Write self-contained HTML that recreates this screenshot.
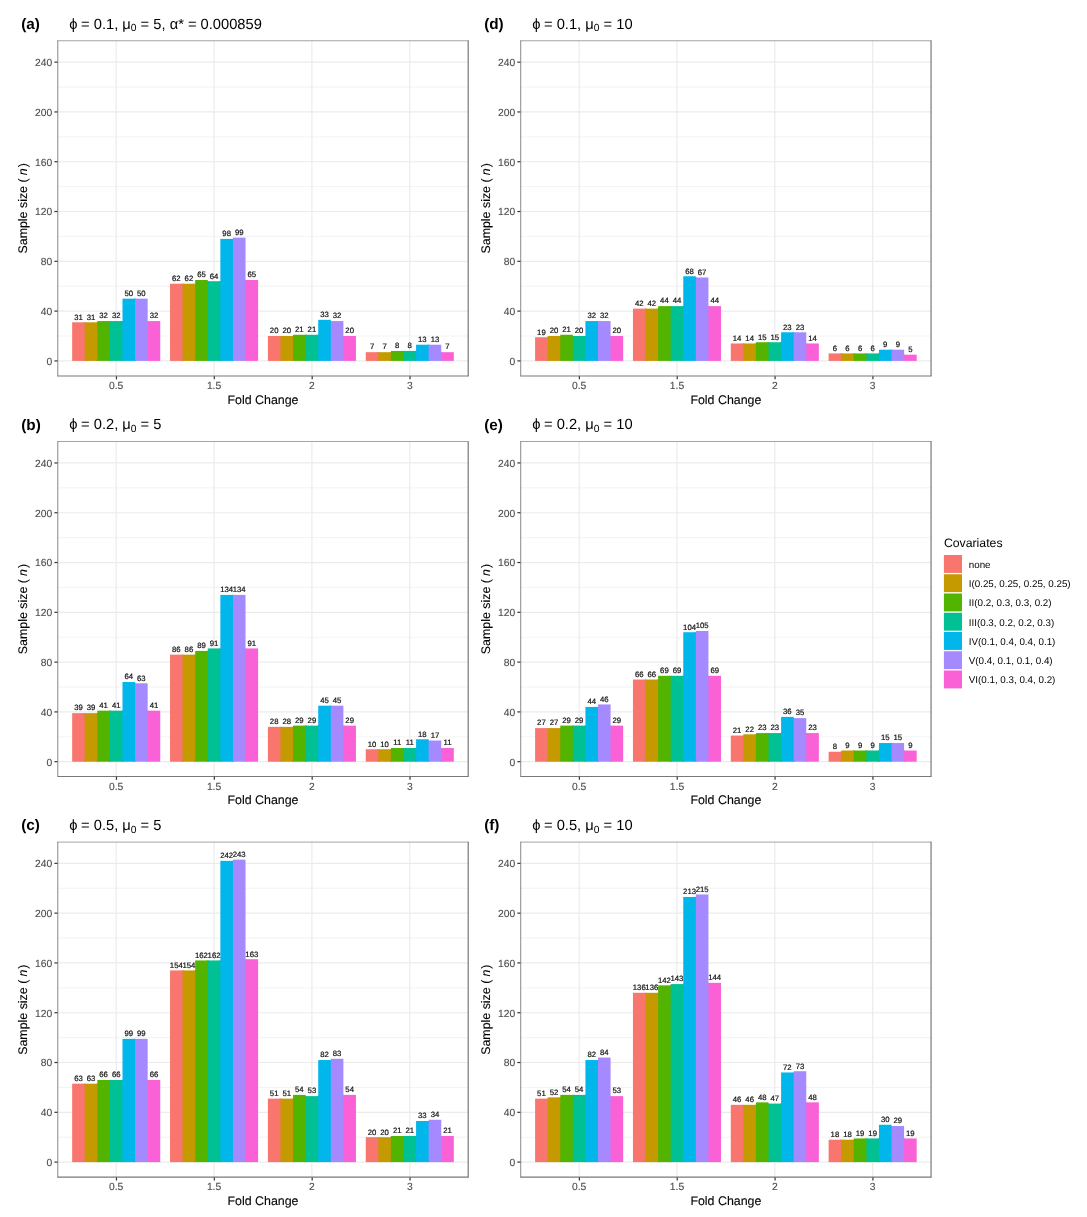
<!DOCTYPE html>
<html lang="en">
<head>
<meta charset="utf-8">
<title>Sample size by fold change</title>
<style>
html,body{margin:0;padding:0;background:#fff;}
body{width:1087px;height:1217px;overflow:hidden;}
svg{display:block;}
text{text-rendering:geometricPrecision;font-family:"Liberation Sans",sans-serif;fill:#000;}
.bl{font-size:7.75px;text-anchor:middle;fill:#111;stroke:#111;stroke-width:0.2px;}
.yt{font-size:10.3px;text-anchor:end;fill:#4D4D4D;stroke:#4D4D4D;stroke-width:0.12px;}
.xt{font-size:10.3px;text-anchor:middle;fill:#4D4D4D;stroke:#4D4D4D;stroke-width:0.12px;}
.at{font-size:12.4px;text-anchor:middle;stroke:#000;stroke-width:0.1px;}
.tg{font-size:15.3px;font-weight:bold;}
.tt{font-size:14.7px;}
.sub{font-size:10.29px;}
.lt{font-size:12.27px;}
.ll{font-size:9.8px;}
</style>
</head>
<body>
<svg role="img" aria-label="Sample size by fold change bar charts" width="1087" height="1217" viewBox="0 0 1087 1217">
<rect x="0" y="0" width="1087" height="1217" fill="#fff"/>
<g class="panel">
<line x1="57.49" x2="468.5" y1="336" y2="336" stroke="#EBEBEB" stroke-width="0.6"/>
<line x1="57.49" x2="468.5" y1="286.21" y2="286.21" stroke="#EBEBEB" stroke-width="0.6"/>
<line x1="57.49" x2="468.5" y1="236.42" y2="236.42" stroke="#EBEBEB" stroke-width="0.6"/>
<line x1="57.49" x2="468.5" y1="186.63" y2="186.63" stroke="#EBEBEB" stroke-width="0.6"/>
<line x1="57.49" x2="468.5" y1="136.84" y2="136.84" stroke="#EBEBEB" stroke-width="0.6"/>
<line x1="57.49" x2="468.5" y1="87.04" y2="87.04" stroke="#EBEBEB" stroke-width="0.6"/>
<line x1="57.49" x2="468.5" y1="360.9" y2="360.9" stroke="#EBEBEB" stroke-width="1.19"/>
<line x1="57.49" x2="468.5" y1="311.11" y2="311.11" stroke="#EBEBEB" stroke-width="1.19"/>
<line x1="57.49" x2="468.5" y1="261.32" y2="261.32" stroke="#EBEBEB" stroke-width="1.19"/>
<line x1="57.49" x2="468.5" y1="211.52" y2="211.52" stroke="#EBEBEB" stroke-width="1.19"/>
<line x1="57.49" x2="468.5" y1="161.73" y2="161.73" stroke="#EBEBEB" stroke-width="1.19"/>
<line x1="57.49" x2="468.5" y1="111.94" y2="111.94" stroke="#EBEBEB" stroke-width="1.19"/>
<line x1="57.49" x2="468.5" y1="62.15" y2="62.15" stroke="#EBEBEB" stroke-width="1.19"/>
<line x1="116.21" x2="116.21" y1="40.45" y2="376.3" stroke="#EBEBEB" stroke-width="1.19"/>
<line x1="214.07" x2="214.07" y1="40.45" y2="376.3" stroke="#EBEBEB" stroke-width="1.19"/>
<line x1="311.92" x2="311.92" y1="40.45" y2="376.3" stroke="#EBEBEB" stroke-width="1.19"/>
<line x1="409.78" x2="409.78" y1="40.45" y2="376.3" stroke="#EBEBEB" stroke-width="1.19"/>
<rect x="83.75" y="322.31" width="2" height="38.59" fill="#F8766D"/>
<rect x="96.33" y="322.31" width="2" height="38.59" fill="#C49A00"/>
<rect x="108.91" y="321.07" width="2" height="39.83" fill="#53B400"/>
<rect x="121.5" y="321.07" width="2" height="39.83" fill="#00C094"/>
<rect x="134.08" y="298.66" width="2" height="62.24" fill="#00B6EB"/>
<rect x="146.66" y="321.07" width="2" height="39.83" fill="#A58AFF"/>
<rect x="181.61" y="283.72" width="2" height="77.18" fill="#F8766D"/>
<rect x="194.19" y="283.72" width="2" height="77.18" fill="#C49A00"/>
<rect x="206.77" y="281.23" width="2" height="79.67" fill="#53B400"/>
<rect x="219.36" y="281.23" width="2" height="79.67" fill="#00C094"/>
<rect x="231.94" y="238.91" width="2" height="121.99" fill="#00B6EB"/>
<rect x="244.52" y="279.99" width="2" height="80.91" fill="#A58AFF"/>
<rect x="279.47" y="336" width="2" height="24.9" fill="#F8766D"/>
<rect x="292.05" y="336" width="2" height="24.9" fill="#C49A00"/>
<rect x="304.63" y="334.76" width="2" height="26.14" fill="#53B400"/>
<rect x="317.22" y="334.76" width="2" height="26.14" fill="#00C094"/>
<rect x="329.8" y="321.07" width="2" height="39.83" fill="#00B6EB"/>
<rect x="342.38" y="336" width="2" height="24.9" fill="#A58AFF"/>
<rect x="377.33" y="352.19" width="2" height="8.71" fill="#F8766D"/>
<rect x="389.91" y="352.19" width="2" height="8.71" fill="#C49A00"/>
<rect x="402.49" y="350.94" width="2" height="9.96" fill="#53B400"/>
<rect x="415.08" y="350.94" width="2" height="9.96" fill="#00C094"/>
<rect x="427.66" y="344.72" width="2" height="16.18" fill="#00B6EB"/>
<rect x="440.24" y="352.19" width="2" height="8.71" fill="#A58AFF"/>
<rect x="72.17" y="322.31" width="12.58" height="38.59" fill="#F8766D"/>
<rect x="84.75" y="322.31" width="12.58" height="38.59" fill="#C49A00"/>
<rect x="97.33" y="321.07" width="12.58" height="39.83" fill="#53B400"/>
<rect x="109.91" y="321.07" width="12.58" height="39.83" fill="#00C094"/>
<rect x="122.5" y="298.66" width="12.58" height="62.24" fill="#00B6EB"/>
<rect x="135.08" y="298.66" width="12.58" height="62.24" fill="#A58AFF"/>
<rect x="147.66" y="321.07" width="12.58" height="39.83" fill="#FB61D7"/>
<rect x="170.03" y="283.72" width="12.58" height="77.18" fill="#F8766D"/>
<rect x="182.61" y="283.72" width="12.58" height="77.18" fill="#C49A00"/>
<rect x="195.19" y="279.99" width="12.58" height="80.91" fill="#53B400"/>
<rect x="207.77" y="281.23" width="12.58" height="79.67" fill="#00C094"/>
<rect x="220.36" y="238.91" width="12.58" height="121.99" fill="#00B6EB"/>
<rect x="232.94" y="237.66" width="12.58" height="123.24" fill="#A58AFF"/>
<rect x="245.52" y="279.99" width="12.58" height="80.91" fill="#FB61D7"/>
<rect x="267.89" y="336" width="12.58" height="24.9" fill="#F8766D"/>
<rect x="280.47" y="336" width="12.58" height="24.9" fill="#C49A00"/>
<rect x="293.05" y="334.76" width="12.58" height="26.14" fill="#53B400"/>
<rect x="305.63" y="334.76" width="12.58" height="26.14" fill="#00C094"/>
<rect x="318.22" y="319.82" width="12.58" height="41.08" fill="#00B6EB"/>
<rect x="330.8" y="321.07" width="12.58" height="39.83" fill="#A58AFF"/>
<rect x="343.38" y="336" width="12.58" height="24.9" fill="#FB61D7"/>
<rect x="365.75" y="352.19" width="12.58" height="8.71" fill="#F8766D"/>
<rect x="378.33" y="352.19" width="12.58" height="8.71" fill="#C49A00"/>
<rect x="390.91" y="350.94" width="12.58" height="9.96" fill="#53B400"/>
<rect x="403.49" y="350.94" width="12.58" height="9.96" fill="#00C094"/>
<rect x="416.08" y="344.72" width="12.58" height="16.18" fill="#00B6EB"/>
<rect x="428.66" y="344.72" width="12.58" height="16.18" fill="#A58AFF"/>
<rect x="441.24" y="352.19" width="12.58" height="8.71" fill="#FB61D7"/>
<text class="bl" x="78.46" y="319.61">31</text>
<text class="bl" x="91.04" y="319.61">31</text>
<text class="bl" x="103.62" y="318.37">32</text>
<text class="bl" x="116.21" y="318.37">32</text>
<text class="bl" x="128.79" y="295.96">50</text>
<text class="bl" x="141.37" y="295.96">50</text>
<text class="bl" x="153.95" y="318.37">32</text>
<text class="bl" x="176.32" y="281.02">62</text>
<text class="bl" x="188.9" y="281.02">62</text>
<text class="bl" x="201.48" y="277.29">65</text>
<text class="bl" x="214.07" y="278.53">64</text>
<text class="bl" x="226.65" y="236.21">98</text>
<text class="bl" x="239.23" y="234.96">99</text>
<text class="bl" x="251.81" y="277.29">65</text>
<text class="bl" x="274.18" y="333.3">20</text>
<text class="bl" x="286.76" y="333.3">20</text>
<text class="bl" x="299.34" y="332.06">21</text>
<text class="bl" x="311.92" y="332.06">21</text>
<text class="bl" x="324.51" y="317.12">33</text>
<text class="bl" x="337.09" y="318.37">32</text>
<text class="bl" x="349.67" y="333.3">20</text>
<text class="bl" x="372.04" y="349.49">7</text>
<text class="bl" x="384.62" y="349.49">7</text>
<text class="bl" x="397.2" y="348.24">8</text>
<text class="bl" x="409.78" y="348.24">8</text>
<text class="bl" x="422.37" y="342.02">13</text>
<text class="bl" x="434.95" y="342.02">13</text>
<text class="bl" x="447.53" y="349.49">7</text>
<line x1="57.49" y1="40.75" x2="468.5" y2="40.75" stroke="#9a9a9a" stroke-width="0.9"/>
<line x1="57.79" y1="40.45" x2="57.79" y2="376.3" stroke="#7b7b7b" stroke-width="0.9"/>
<line x1="468.2" y1="40.45" x2="468.2" y2="376.3" stroke="#787878" stroke-width="1.2"/>
<line x1="57.49" y1="376" x2="468.5" y2="376" stroke="#787878" stroke-width="1.2"/>
<line x1="54.42" x2="57.49" y1="360.9" y2="360.9" stroke="#333333" stroke-width="1.19"/>
<text class="yt" x="52.29" y="364.75">0</text>
<line x1="54.42" x2="57.49" y1="311.11" y2="311.11" stroke="#333333" stroke-width="1.19"/>
<text class="yt" x="52.29" y="314.96">40</text>
<line x1="54.42" x2="57.49" y1="261.32" y2="261.32" stroke="#333333" stroke-width="1.19"/>
<text class="yt" x="52.29" y="265.17">80</text>
<line x1="54.42" x2="57.49" y1="211.52" y2="211.52" stroke="#333333" stroke-width="1.19"/>
<text class="yt" x="52.29" y="215.37">120</text>
<line x1="54.42" x2="57.49" y1="161.73" y2="161.73" stroke="#333333" stroke-width="1.19"/>
<text class="yt" x="52.29" y="165.58">160</text>
<line x1="54.42" x2="57.49" y1="111.94" y2="111.94" stroke="#333333" stroke-width="1.19"/>
<text class="yt" x="52.29" y="115.79">200</text>
<line x1="54.42" x2="57.49" y1="62.15" y2="62.15" stroke="#333333" stroke-width="1.19"/>
<text class="yt" x="52.29" y="66">240</text>
<line x1="116.46" x2="116.46" y1="376.3" y2="379.37" stroke="#333333" stroke-width="1.19"/>
<text class="xt" x="116.21" y="389.1">0.5</text>
<line x1="214.32" x2="214.32" y1="376.3" y2="379.37" stroke="#333333" stroke-width="1.19"/>
<text class="xt" x="214.07" y="389.1">1.5</text>
<line x1="312.17" x2="312.17" y1="376.3" y2="379.37" stroke="#333333" stroke-width="1.19"/>
<text class="xt" x="311.92" y="389.1">2</text>
<line x1="410.03" x2="410.03" y1="376.3" y2="379.37" stroke="#333333" stroke-width="1.19"/>
<text class="xt" x="409.78" y="389.1">3</text>
<text class="at" x="263" y="403.6">Fold Change</text>
<text class="at" transform="translate(27.19,208.38) rotate(-90)" x="0" y="0">Sample size ( <tspan font-style="italic" dx="-0.3">n</tspan><tspan dx="-2.4"> )</tspan></text>
<text class="tg" x="21.19" y="28.95">(a)</text>
<text class="tt" x="69.19" y="28.55"><tspan class="gr">ϕ</tspan><tspan dx="-0.4"> = 0.1</tspan>, <tspan class="gr">μ</tspan><tspan class="sub" dy="2.6">0</tspan><tspan dy="-2.6"> = 5</tspan>, <tspan class="gr">α</tspan>* = 0.000859</text>
</g>
<g class="panel">
<line x1="57.49" x2="468.5" y1="736.8" y2="736.8" stroke="#EBEBEB" stroke-width="0.6"/>
<line x1="57.49" x2="468.5" y1="687.01" y2="687.01" stroke="#EBEBEB" stroke-width="0.6"/>
<line x1="57.49" x2="468.5" y1="637.22" y2="637.22" stroke="#EBEBEB" stroke-width="0.6"/>
<line x1="57.49" x2="468.5" y1="587.43" y2="587.43" stroke="#EBEBEB" stroke-width="0.6"/>
<line x1="57.49" x2="468.5" y1="537.64" y2="537.64" stroke="#EBEBEB" stroke-width="0.6"/>
<line x1="57.49" x2="468.5" y1="487.84" y2="487.84" stroke="#EBEBEB" stroke-width="0.6"/>
<line x1="57.49" x2="468.5" y1="761.7" y2="761.7" stroke="#EBEBEB" stroke-width="1.19"/>
<line x1="57.49" x2="468.5" y1="711.91" y2="711.91" stroke="#EBEBEB" stroke-width="1.19"/>
<line x1="57.49" x2="468.5" y1="662.12" y2="662.12" stroke="#EBEBEB" stroke-width="1.19"/>
<line x1="57.49" x2="468.5" y1="612.32" y2="612.32" stroke="#EBEBEB" stroke-width="1.19"/>
<line x1="57.49" x2="468.5" y1="562.53" y2="562.53" stroke="#EBEBEB" stroke-width="1.19"/>
<line x1="57.49" x2="468.5" y1="512.74" y2="512.74" stroke="#EBEBEB" stroke-width="1.19"/>
<line x1="57.49" x2="468.5" y1="462.95" y2="462.95" stroke="#EBEBEB" stroke-width="1.19"/>
<line x1="116.21" x2="116.21" y1="441.2" y2="776.8" stroke="#EBEBEB" stroke-width="1.19"/>
<line x1="214.07" x2="214.07" y1="441.2" y2="776.8" stroke="#EBEBEB" stroke-width="1.19"/>
<line x1="311.92" x2="311.92" y1="441.2" y2="776.8" stroke="#EBEBEB" stroke-width="1.19"/>
<line x1="409.78" x2="409.78" y1="441.2" y2="776.8" stroke="#EBEBEB" stroke-width="1.19"/>
<rect x="83.75" y="713.15" width="2" height="48.55" fill="#F8766D"/>
<rect x="96.33" y="713.15" width="2" height="48.55" fill="#C49A00"/>
<rect x="108.91" y="710.66" width="2" height="51.04" fill="#53B400"/>
<rect x="121.5" y="710.66" width="2" height="51.04" fill="#00C094"/>
<rect x="134.08" y="683.28" width="2" height="78.42" fill="#00B6EB"/>
<rect x="146.66" y="710.66" width="2" height="51.04" fill="#A58AFF"/>
<rect x="181.61" y="654.65" width="2" height="107.05" fill="#F8766D"/>
<rect x="194.19" y="654.65" width="2" height="107.05" fill="#C49A00"/>
<rect x="206.77" y="650.91" width="2" height="110.79" fill="#53B400"/>
<rect x="219.36" y="648.42" width="2" height="113.28" fill="#00C094"/>
<rect x="231.94" y="594.9" width="2" height="166.8" fill="#00B6EB"/>
<rect x="244.52" y="648.42" width="2" height="113.28" fill="#A58AFF"/>
<rect x="279.47" y="726.85" width="2" height="34.85" fill="#F8766D"/>
<rect x="292.05" y="726.85" width="2" height="34.85" fill="#C49A00"/>
<rect x="304.63" y="725.6" width="2" height="36.1" fill="#53B400"/>
<rect x="317.22" y="725.6" width="2" height="36.1" fill="#00C094"/>
<rect x="329.8" y="705.68" width="2" height="56.02" fill="#00B6EB"/>
<rect x="342.38" y="725.6" width="2" height="36.1" fill="#A58AFF"/>
<rect x="377.33" y="749.25" width="2" height="12.45" fill="#F8766D"/>
<rect x="389.91" y="749.25" width="2" height="12.45" fill="#C49A00"/>
<rect x="402.49" y="748.01" width="2" height="13.69" fill="#53B400"/>
<rect x="415.08" y="748.01" width="2" height="13.69" fill="#00C094"/>
<rect x="427.66" y="740.54" width="2" height="21.16" fill="#00B6EB"/>
<rect x="440.24" y="748.01" width="2" height="13.69" fill="#A58AFF"/>
<rect x="72.17" y="713.15" width="12.58" height="48.55" fill="#F8766D"/>
<rect x="84.75" y="713.15" width="12.58" height="48.55" fill="#C49A00"/>
<rect x="97.33" y="710.66" width="12.58" height="51.04" fill="#53B400"/>
<rect x="109.91" y="710.66" width="12.58" height="51.04" fill="#00C094"/>
<rect x="122.5" y="682.03" width="12.58" height="79.67" fill="#00B6EB"/>
<rect x="135.08" y="683.28" width="12.58" height="78.42" fill="#A58AFF"/>
<rect x="147.66" y="710.66" width="12.58" height="51.04" fill="#FB61D7"/>
<rect x="170.03" y="654.65" width="12.58" height="107.05" fill="#F8766D"/>
<rect x="182.61" y="654.65" width="12.58" height="107.05" fill="#C49A00"/>
<rect x="195.19" y="650.91" width="12.58" height="110.79" fill="#53B400"/>
<rect x="207.77" y="648.42" width="12.58" height="113.28" fill="#00C094"/>
<rect x="220.36" y="594.9" width="12.58" height="166.8" fill="#00B6EB"/>
<rect x="232.94" y="594.9" width="12.58" height="166.8" fill="#A58AFF"/>
<rect x="245.52" y="648.42" width="12.58" height="113.28" fill="#FB61D7"/>
<rect x="267.89" y="726.85" width="12.58" height="34.85" fill="#F8766D"/>
<rect x="280.47" y="726.85" width="12.58" height="34.85" fill="#C49A00"/>
<rect x="293.05" y="725.6" width="12.58" height="36.1" fill="#53B400"/>
<rect x="305.63" y="725.6" width="12.58" height="36.1" fill="#00C094"/>
<rect x="318.22" y="705.68" width="12.58" height="56.02" fill="#00B6EB"/>
<rect x="330.8" y="705.68" width="12.58" height="56.02" fill="#A58AFF"/>
<rect x="343.38" y="725.6" width="12.58" height="36.1" fill="#FB61D7"/>
<rect x="365.75" y="749.25" width="12.58" height="12.45" fill="#F8766D"/>
<rect x="378.33" y="749.25" width="12.58" height="12.45" fill="#C49A00"/>
<rect x="390.91" y="748.01" width="12.58" height="13.69" fill="#53B400"/>
<rect x="403.49" y="748.01" width="12.58" height="13.69" fill="#00C094"/>
<rect x="416.08" y="739.29" width="12.58" height="22.41" fill="#00B6EB"/>
<rect x="428.66" y="740.54" width="12.58" height="21.16" fill="#A58AFF"/>
<rect x="441.24" y="748.01" width="12.58" height="13.69" fill="#FB61D7"/>
<text class="bl" x="78.46" y="710.45">39</text>
<text class="bl" x="91.04" y="710.45">39</text>
<text class="bl" x="103.62" y="707.96">41</text>
<text class="bl" x="116.21" y="707.96">41</text>
<text class="bl" x="128.79" y="679.33">64</text>
<text class="bl" x="141.37" y="680.58">63</text>
<text class="bl" x="153.95" y="707.96">41</text>
<text class="bl" x="176.32" y="651.95">86</text>
<text class="bl" x="188.9" y="651.95">86</text>
<text class="bl" x="201.48" y="648.21">89</text>
<text class="bl" x="214.07" y="645.72">91</text>
<text class="bl" x="226.65" y="592.2">134</text>
<text class="bl" x="239.23" y="592.2">134</text>
<text class="bl" x="251.81" y="645.72">91</text>
<text class="bl" x="274.18" y="724.15">28</text>
<text class="bl" x="286.76" y="724.15">28</text>
<text class="bl" x="299.34" y="722.9">29</text>
<text class="bl" x="311.92" y="722.9">29</text>
<text class="bl" x="324.51" y="702.98">45</text>
<text class="bl" x="337.09" y="702.98">45</text>
<text class="bl" x="349.67" y="722.9">29</text>
<text class="bl" x="372.04" y="746.55">10</text>
<text class="bl" x="384.62" y="746.55">10</text>
<text class="bl" x="397.2" y="745.31">11</text>
<text class="bl" x="409.78" y="745.31">11</text>
<text class="bl" x="422.37" y="736.59">18</text>
<text class="bl" x="434.95" y="737.84">17</text>
<text class="bl" x="447.53" y="745.31">11</text>
<line x1="57.49" y1="441.5" x2="468.5" y2="441.5" stroke="#9a9a9a" stroke-width="0.9"/>
<line x1="57.79" y1="441.2" x2="57.79" y2="776.8" stroke="#7b7b7b" stroke-width="0.9"/>
<line x1="468.2" y1="441.2" x2="468.2" y2="776.8" stroke="#787878" stroke-width="1.2"/>
<line x1="57.49" y1="776.5" x2="468.5" y2="776.5" stroke="#787878" stroke-width="1.2"/>
<line x1="54.42" x2="57.49" y1="761.7" y2="761.7" stroke="#333333" stroke-width="1.19"/>
<text class="yt" x="52.29" y="765.55">0</text>
<line x1="54.42" x2="57.49" y1="711.91" y2="711.91" stroke="#333333" stroke-width="1.19"/>
<text class="yt" x="52.29" y="715.76">40</text>
<line x1="54.42" x2="57.49" y1="662.12" y2="662.12" stroke="#333333" stroke-width="1.19"/>
<text class="yt" x="52.29" y="665.97">80</text>
<line x1="54.42" x2="57.49" y1="612.32" y2="612.32" stroke="#333333" stroke-width="1.19"/>
<text class="yt" x="52.29" y="616.17">120</text>
<line x1="54.42" x2="57.49" y1="562.53" y2="562.53" stroke="#333333" stroke-width="1.19"/>
<text class="yt" x="52.29" y="566.38">160</text>
<line x1="54.42" x2="57.49" y1="512.74" y2="512.74" stroke="#333333" stroke-width="1.19"/>
<text class="yt" x="52.29" y="516.59">200</text>
<line x1="54.42" x2="57.49" y1="462.95" y2="462.95" stroke="#333333" stroke-width="1.19"/>
<text class="yt" x="52.29" y="466.8">240</text>
<line x1="116.46" x2="116.46" y1="776.8" y2="779.87" stroke="#333333" stroke-width="1.19"/>
<text class="xt" x="116.21" y="789.9">0.5</text>
<line x1="214.32" x2="214.32" y1="776.8" y2="779.87" stroke="#333333" stroke-width="1.19"/>
<text class="xt" x="214.07" y="789.9">1.5</text>
<line x1="312.17" x2="312.17" y1="776.8" y2="779.87" stroke="#333333" stroke-width="1.19"/>
<text class="xt" x="311.92" y="789.9">2</text>
<line x1="410.03" x2="410.03" y1="776.8" y2="779.87" stroke="#333333" stroke-width="1.19"/>
<text class="xt" x="409.78" y="789.9">3</text>
<text class="at" x="263" y="804.4">Fold Change</text>
<text class="at" transform="translate(27.19,609) rotate(-90)" x="0" y="0">Sample size ( <tspan font-style="italic" dx="-0.3">n</tspan><tspan dx="-2.4"> )</tspan></text>
<text class="tg" x="21.19" y="429.7">(b)</text>
<text class="tt" x="69.19" y="429.3"><tspan class="gr">ϕ</tspan><tspan dx="-0.4"> = 0.2</tspan>, <tspan class="gr">μ</tspan><tspan class="sub" dy="2.6">0</tspan><tspan dy="-2.6"> = 5</tspan></text>
</g>
<g class="panel">
<line x1="57.49" x2="468.5" y1="1137.2" y2="1137.2" stroke="#EBEBEB" stroke-width="0.6"/>
<line x1="57.49" x2="468.5" y1="1087.41" y2="1087.41" stroke="#EBEBEB" stroke-width="0.6"/>
<line x1="57.49" x2="468.5" y1="1037.62" y2="1037.62" stroke="#EBEBEB" stroke-width="0.6"/>
<line x1="57.49" x2="468.5" y1="987.83" y2="987.83" stroke="#EBEBEB" stroke-width="0.6"/>
<line x1="57.49" x2="468.5" y1="938.04" y2="938.04" stroke="#EBEBEB" stroke-width="0.6"/>
<line x1="57.49" x2="468.5" y1="888.24" y2="888.24" stroke="#EBEBEB" stroke-width="0.6"/>
<line x1="57.49" x2="468.5" y1="1162.1" y2="1162.1" stroke="#EBEBEB" stroke-width="1.19"/>
<line x1="57.49" x2="468.5" y1="1112.31" y2="1112.31" stroke="#EBEBEB" stroke-width="1.19"/>
<line x1="57.49" x2="468.5" y1="1062.52" y2="1062.52" stroke="#EBEBEB" stroke-width="1.19"/>
<line x1="57.49" x2="468.5" y1="1012.72" y2="1012.72" stroke="#EBEBEB" stroke-width="1.19"/>
<line x1="57.49" x2="468.5" y1="962.93" y2="962.93" stroke="#EBEBEB" stroke-width="1.19"/>
<line x1="57.49" x2="468.5" y1="913.14" y2="913.14" stroke="#EBEBEB" stroke-width="1.19"/>
<line x1="57.49" x2="468.5" y1="863.35" y2="863.35" stroke="#EBEBEB" stroke-width="1.19"/>
<line x1="116.21" x2="116.21" y1="841.8" y2="1177.5" stroke="#EBEBEB" stroke-width="1.19"/>
<line x1="214.07" x2="214.07" y1="841.8" y2="1177.5" stroke="#EBEBEB" stroke-width="1.19"/>
<line x1="311.92" x2="311.92" y1="841.8" y2="1177.5" stroke="#EBEBEB" stroke-width="1.19"/>
<line x1="409.78" x2="409.78" y1="841.8" y2="1177.5" stroke="#EBEBEB" stroke-width="1.19"/>
<rect x="83.75" y="1083.68" width="2" height="78.42" fill="#F8766D"/>
<rect x="96.33" y="1083.68" width="2" height="78.42" fill="#C49A00"/>
<rect x="108.91" y="1079.94" width="2" height="82.16" fill="#53B400"/>
<rect x="121.5" y="1079.94" width="2" height="82.16" fill="#00C094"/>
<rect x="134.08" y="1038.86" width="2" height="123.24" fill="#00B6EB"/>
<rect x="146.66" y="1079.94" width="2" height="82.16" fill="#A58AFF"/>
<rect x="181.61" y="970.4" width="2" height="191.7" fill="#F8766D"/>
<rect x="194.19" y="970.4" width="2" height="191.7" fill="#C49A00"/>
<rect x="206.77" y="960.44" width="2" height="201.66" fill="#53B400"/>
<rect x="219.36" y="960.44" width="2" height="201.66" fill="#00C094"/>
<rect x="231.94" y="860.86" width="2" height="301.24" fill="#00B6EB"/>
<rect x="244.52" y="959.2" width="2" height="202.9" fill="#A58AFF"/>
<rect x="279.47" y="1098.62" width="2" height="63.48" fill="#F8766D"/>
<rect x="292.05" y="1098.62" width="2" height="63.48" fill="#C49A00"/>
<rect x="304.63" y="1096.13" width="2" height="65.97" fill="#53B400"/>
<rect x="317.22" y="1096.13" width="2" height="65.97" fill="#00C094"/>
<rect x="329.8" y="1060.03" width="2" height="102.07" fill="#00B6EB"/>
<rect x="342.38" y="1094.88" width="2" height="67.22" fill="#A58AFF"/>
<rect x="377.33" y="1137.2" width="2" height="24.9" fill="#F8766D"/>
<rect x="389.91" y="1137.2" width="2" height="24.9" fill="#C49A00"/>
<rect x="402.49" y="1135.96" width="2" height="26.14" fill="#53B400"/>
<rect x="415.08" y="1135.96" width="2" height="26.14" fill="#00C094"/>
<rect x="427.66" y="1121.02" width="2" height="41.08" fill="#00B6EB"/>
<rect x="440.24" y="1135.96" width="2" height="26.14" fill="#A58AFF"/>
<rect x="72.17" y="1083.68" width="12.58" height="78.42" fill="#F8766D"/>
<rect x="84.75" y="1083.68" width="12.58" height="78.42" fill="#C49A00"/>
<rect x="97.33" y="1079.94" width="12.58" height="82.16" fill="#53B400"/>
<rect x="109.91" y="1079.94" width="12.58" height="82.16" fill="#00C094"/>
<rect x="122.5" y="1038.86" width="12.58" height="123.24" fill="#00B6EB"/>
<rect x="135.08" y="1038.86" width="12.58" height="123.24" fill="#A58AFF"/>
<rect x="147.66" y="1079.94" width="12.58" height="82.16" fill="#FB61D7"/>
<rect x="170.03" y="970.4" width="12.58" height="191.7" fill="#F8766D"/>
<rect x="182.61" y="970.4" width="12.58" height="191.7" fill="#C49A00"/>
<rect x="195.19" y="960.44" width="12.58" height="201.66" fill="#53B400"/>
<rect x="207.77" y="960.44" width="12.58" height="201.66" fill="#00C094"/>
<rect x="220.36" y="860.86" width="12.58" height="301.24" fill="#00B6EB"/>
<rect x="232.94" y="859.61" width="12.58" height="302.49" fill="#A58AFF"/>
<rect x="245.52" y="959.2" width="12.58" height="202.9" fill="#FB61D7"/>
<rect x="267.89" y="1098.62" width="12.58" height="63.48" fill="#F8766D"/>
<rect x="280.47" y="1098.62" width="12.58" height="63.48" fill="#C49A00"/>
<rect x="293.05" y="1094.88" width="12.58" height="67.22" fill="#53B400"/>
<rect x="305.63" y="1096.13" width="12.58" height="65.97" fill="#00C094"/>
<rect x="318.22" y="1060.03" width="12.58" height="102.07" fill="#00B6EB"/>
<rect x="330.8" y="1058.78" width="12.58" height="103.32" fill="#A58AFF"/>
<rect x="343.38" y="1094.88" width="12.58" height="67.22" fill="#FB61D7"/>
<rect x="365.75" y="1137.2" width="12.58" height="24.9" fill="#F8766D"/>
<rect x="378.33" y="1137.2" width="12.58" height="24.9" fill="#C49A00"/>
<rect x="390.91" y="1135.96" width="12.58" height="26.14" fill="#53B400"/>
<rect x="403.49" y="1135.96" width="12.58" height="26.14" fill="#00C094"/>
<rect x="416.08" y="1121.02" width="12.58" height="41.08" fill="#00B6EB"/>
<rect x="428.66" y="1119.78" width="12.58" height="42.32" fill="#A58AFF"/>
<rect x="441.24" y="1135.96" width="12.58" height="26.14" fill="#FB61D7"/>
<text class="bl" x="78.46" y="1080.98">63</text>
<text class="bl" x="91.04" y="1080.98">63</text>
<text class="bl" x="103.62" y="1077.24">66</text>
<text class="bl" x="116.21" y="1077.24">66</text>
<text class="bl" x="128.79" y="1036.16">99</text>
<text class="bl" x="141.37" y="1036.16">99</text>
<text class="bl" x="153.95" y="1077.24">66</text>
<text class="bl" x="176.32" y="967.7">154</text>
<text class="bl" x="188.9" y="967.7">154</text>
<text class="bl" x="201.48" y="957.74">162</text>
<text class="bl" x="214.07" y="957.74">162</text>
<text class="bl" x="226.65" y="858.16">242</text>
<text class="bl" x="239.23" y="856.91">243</text>
<text class="bl" x="251.81" y="956.5">163</text>
<text class="bl" x="274.18" y="1095.92">51</text>
<text class="bl" x="286.76" y="1095.92">51</text>
<text class="bl" x="299.34" y="1092.18">54</text>
<text class="bl" x="311.92" y="1093.43">53</text>
<text class="bl" x="324.51" y="1057.33">82</text>
<text class="bl" x="337.09" y="1056.08">83</text>
<text class="bl" x="349.67" y="1092.18">54</text>
<text class="bl" x="372.04" y="1134.5">20</text>
<text class="bl" x="384.62" y="1134.5">20</text>
<text class="bl" x="397.2" y="1133.26">21</text>
<text class="bl" x="409.78" y="1133.26">21</text>
<text class="bl" x="422.37" y="1118.32">33</text>
<text class="bl" x="434.95" y="1117.08">34</text>
<text class="bl" x="447.53" y="1133.26">21</text>
<line x1="57.49" y1="842.1" x2="468.5" y2="842.1" stroke="#9a9a9a" stroke-width="0.9"/>
<line x1="57.79" y1="841.8" x2="57.79" y2="1177.5" stroke="#7b7b7b" stroke-width="0.9"/>
<line x1="468.2" y1="841.8" x2="468.2" y2="1177.5" stroke="#787878" stroke-width="1.2"/>
<line x1="57.49" y1="1177.2" x2="468.5" y2="1177.2" stroke="#787878" stroke-width="1.2"/>
<line x1="54.42" x2="57.49" y1="1162.1" y2="1162.1" stroke="#333333" stroke-width="1.19"/>
<text class="yt" x="52.29" y="1165.95">0</text>
<line x1="54.42" x2="57.49" y1="1112.31" y2="1112.31" stroke="#333333" stroke-width="1.19"/>
<text class="yt" x="52.29" y="1116.16">40</text>
<line x1="54.42" x2="57.49" y1="1062.52" y2="1062.52" stroke="#333333" stroke-width="1.19"/>
<text class="yt" x="52.29" y="1066.37">80</text>
<line x1="54.42" x2="57.49" y1="1012.72" y2="1012.72" stroke="#333333" stroke-width="1.19"/>
<text class="yt" x="52.29" y="1016.57">120</text>
<line x1="54.42" x2="57.49" y1="962.93" y2="962.93" stroke="#333333" stroke-width="1.19"/>
<text class="yt" x="52.29" y="966.78">160</text>
<line x1="54.42" x2="57.49" y1="913.14" y2="913.14" stroke="#333333" stroke-width="1.19"/>
<text class="yt" x="52.29" y="916.99">200</text>
<line x1="54.42" x2="57.49" y1="863.35" y2="863.35" stroke="#333333" stroke-width="1.19"/>
<text class="yt" x="52.29" y="867.2">240</text>
<line x1="116.46" x2="116.46" y1="1177.5" y2="1180.57" stroke="#333333" stroke-width="1.19"/>
<text class="xt" x="116.21" y="1190.3">0.5</text>
<line x1="214.32" x2="214.32" y1="1177.5" y2="1180.57" stroke="#333333" stroke-width="1.19"/>
<text class="xt" x="214.07" y="1190.3">1.5</text>
<line x1="312.17" x2="312.17" y1="1177.5" y2="1180.57" stroke="#333333" stroke-width="1.19"/>
<text class="xt" x="311.92" y="1190.3">2</text>
<line x1="410.03" x2="410.03" y1="1177.5" y2="1180.57" stroke="#333333" stroke-width="1.19"/>
<text class="xt" x="409.78" y="1190.3">3</text>
<text class="at" x="263" y="1204.8">Fold Change</text>
<text class="at" transform="translate(27.19,1009.65) rotate(-90)" x="0" y="0">Sample size ( <tspan font-style="italic" dx="-0.3">n</tspan><tspan dx="-2.4"> )</tspan></text>
<text class="tg" x="21.19" y="830.3">(c)</text>
<text class="tt" x="69.19" y="829.9"><tspan class="gr">ϕ</tspan><tspan dx="-0.4"> = 0.5</tspan>, <tspan class="gr">μ</tspan><tspan class="sub" dy="2.6">0</tspan><tspan dy="-2.6"> = 5</tspan></text>
</g>
<g class="panel">
<line x1="520.43" x2="931.36" y1="336" y2="336" stroke="#EBEBEB" stroke-width="0.6"/>
<line x1="520.43" x2="931.36" y1="286.21" y2="286.21" stroke="#EBEBEB" stroke-width="0.6"/>
<line x1="520.43" x2="931.36" y1="236.42" y2="236.42" stroke="#EBEBEB" stroke-width="0.6"/>
<line x1="520.43" x2="931.36" y1="186.63" y2="186.63" stroke="#EBEBEB" stroke-width="0.6"/>
<line x1="520.43" x2="931.36" y1="136.84" y2="136.84" stroke="#EBEBEB" stroke-width="0.6"/>
<line x1="520.43" x2="931.36" y1="87.04" y2="87.04" stroke="#EBEBEB" stroke-width="0.6"/>
<line x1="520.43" x2="931.36" y1="360.9" y2="360.9" stroke="#EBEBEB" stroke-width="1.19"/>
<line x1="520.43" x2="931.36" y1="311.11" y2="311.11" stroke="#EBEBEB" stroke-width="1.19"/>
<line x1="520.43" x2="931.36" y1="261.32" y2="261.32" stroke="#EBEBEB" stroke-width="1.19"/>
<line x1="520.43" x2="931.36" y1="211.52" y2="211.52" stroke="#EBEBEB" stroke-width="1.19"/>
<line x1="520.43" x2="931.36" y1="161.73" y2="161.73" stroke="#EBEBEB" stroke-width="1.19"/>
<line x1="520.43" x2="931.36" y1="111.94" y2="111.94" stroke="#EBEBEB" stroke-width="1.19"/>
<line x1="520.43" x2="931.36" y1="62.15" y2="62.15" stroke="#EBEBEB" stroke-width="1.19"/>
<line x1="579.13" x2="579.13" y1="40.45" y2="376.3" stroke="#EBEBEB" stroke-width="1.19"/>
<line x1="676.97" x2="676.97" y1="40.45" y2="376.3" stroke="#EBEBEB" stroke-width="1.19"/>
<line x1="774.82" x2="774.82" y1="40.45" y2="376.3" stroke="#EBEBEB" stroke-width="1.19"/>
<line x1="872.66" x2="872.66" y1="40.45" y2="376.3" stroke="#EBEBEB" stroke-width="1.19"/>
<rect x="546.69" y="337.25" width="2" height="23.65" fill="#F8766D"/>
<rect x="559.27" y="336" width="2" height="24.9" fill="#C49A00"/>
<rect x="571.84" y="336" width="2" height="24.9" fill="#53B400"/>
<rect x="584.42" y="336" width="2" height="24.9" fill="#00C094"/>
<rect x="597" y="321.07" width="2" height="39.83" fill="#00B6EB"/>
<rect x="609.58" y="336" width="2" height="24.9" fill="#A58AFF"/>
<rect x="644.53" y="308.62" width="2" height="52.28" fill="#F8766D"/>
<rect x="657.11" y="308.62" width="2" height="52.28" fill="#C49A00"/>
<rect x="669.69" y="306.13" width="2" height="54.77" fill="#53B400"/>
<rect x="682.26" y="306.13" width="2" height="54.77" fill="#00C094"/>
<rect x="694.84" y="277.5" width="2" height="83.4" fill="#00B6EB"/>
<rect x="707.42" y="306.13" width="2" height="54.77" fill="#A58AFF"/>
<rect x="742.37" y="343.47" width="2" height="17.43" fill="#F8766D"/>
<rect x="754.95" y="343.47" width="2" height="17.43" fill="#C49A00"/>
<rect x="767.53" y="342.23" width="2" height="18.67" fill="#53B400"/>
<rect x="780.1" y="342.23" width="2" height="18.67" fill="#00C094"/>
<rect x="792.68" y="332.27" width="2" height="28.63" fill="#00B6EB"/>
<rect x="805.26" y="343.47" width="2" height="17.43" fill="#A58AFF"/>
<rect x="840.21" y="353.43" width="2" height="7.47" fill="#F8766D"/>
<rect x="852.79" y="353.43" width="2" height="7.47" fill="#C49A00"/>
<rect x="865.37" y="353.43" width="2" height="7.47" fill="#53B400"/>
<rect x="877.95" y="353.43" width="2" height="7.47" fill="#00C094"/>
<rect x="890.52" y="349.7" width="2" height="11.2" fill="#00B6EB"/>
<rect x="903.1" y="354.68" width="2" height="6.22" fill="#A58AFF"/>
<rect x="535.11" y="337.25" width="12.58" height="23.65" fill="#F8766D"/>
<rect x="547.69" y="336" width="12.58" height="24.9" fill="#C49A00"/>
<rect x="560.27" y="334.76" width="12.58" height="26.14" fill="#53B400"/>
<rect x="572.84" y="336" width="12.58" height="24.9" fill="#00C094"/>
<rect x="585.42" y="321.07" width="12.58" height="39.83" fill="#00B6EB"/>
<rect x="598" y="321.07" width="12.58" height="39.83" fill="#A58AFF"/>
<rect x="610.58" y="336" width="12.58" height="24.9" fill="#FB61D7"/>
<rect x="632.95" y="308.62" width="12.58" height="52.28" fill="#F8766D"/>
<rect x="645.53" y="308.62" width="12.58" height="52.28" fill="#C49A00"/>
<rect x="658.11" y="306.13" width="12.58" height="54.77" fill="#53B400"/>
<rect x="670.69" y="306.13" width="12.58" height="54.77" fill="#00C094"/>
<rect x="683.26" y="276.25" width="12.58" height="84.65" fill="#00B6EB"/>
<rect x="695.84" y="277.5" width="12.58" height="83.4" fill="#A58AFF"/>
<rect x="708.42" y="306.13" width="12.58" height="54.77" fill="#FB61D7"/>
<rect x="730.79" y="343.47" width="12.58" height="17.43" fill="#F8766D"/>
<rect x="743.37" y="343.47" width="12.58" height="17.43" fill="#C49A00"/>
<rect x="755.95" y="342.23" width="12.58" height="18.67" fill="#53B400"/>
<rect x="768.53" y="342.23" width="12.58" height="18.67" fill="#00C094"/>
<rect x="781.1" y="332.27" width="12.58" height="28.63" fill="#00B6EB"/>
<rect x="793.68" y="332.27" width="12.58" height="28.63" fill="#A58AFF"/>
<rect x="806.26" y="343.47" width="12.58" height="17.43" fill="#FB61D7"/>
<rect x="828.63" y="353.43" width="12.58" height="7.47" fill="#F8766D"/>
<rect x="841.21" y="353.43" width="12.58" height="7.47" fill="#C49A00"/>
<rect x="853.79" y="353.43" width="12.58" height="7.47" fill="#53B400"/>
<rect x="866.37" y="353.43" width="12.58" height="7.47" fill="#00C094"/>
<rect x="878.95" y="349.7" width="12.58" height="11.2" fill="#00B6EB"/>
<rect x="891.52" y="349.7" width="12.58" height="11.2" fill="#A58AFF"/>
<rect x="904.1" y="354.68" width="12.58" height="6.22" fill="#FB61D7"/>
<text class="bl" x="541.4" y="334.55">19</text>
<text class="bl" x="553.98" y="333.3">20</text>
<text class="bl" x="566.55" y="332.06">21</text>
<text class="bl" x="579.13" y="333.3">20</text>
<text class="bl" x="591.71" y="318.37">32</text>
<text class="bl" x="604.29" y="318.37">32</text>
<text class="bl" x="616.87" y="333.3">20</text>
<text class="bl" x="639.24" y="305.92">42</text>
<text class="bl" x="651.82" y="305.92">42</text>
<text class="bl" x="664.4" y="303.43">44</text>
<text class="bl" x="676.97" y="303.43">44</text>
<text class="bl" x="689.55" y="273.55">68</text>
<text class="bl" x="702.13" y="274.8">67</text>
<text class="bl" x="714.71" y="303.43">44</text>
<text class="bl" x="737.08" y="340.77">14</text>
<text class="bl" x="749.66" y="340.77">14</text>
<text class="bl" x="762.24" y="339.53">15</text>
<text class="bl" x="774.82" y="339.53">15</text>
<text class="bl" x="787.39" y="329.57">23</text>
<text class="bl" x="799.97" y="329.57">23</text>
<text class="bl" x="812.55" y="340.77">14</text>
<text class="bl" x="834.92" y="350.73">6</text>
<text class="bl" x="847.5" y="350.73">6</text>
<text class="bl" x="860.08" y="350.73">6</text>
<text class="bl" x="872.66" y="350.73">6</text>
<text class="bl" x="885.24" y="347">9</text>
<text class="bl" x="897.81" y="347">9</text>
<text class="bl" x="910.39" y="351.98">5</text>
<line x1="520.43" y1="40.75" x2="931.36" y2="40.75" stroke="#9a9a9a" stroke-width="0.9"/>
<line x1="520.73" y1="40.45" x2="520.73" y2="376.3" stroke="#7b7b7b" stroke-width="0.9"/>
<line x1="931.06" y1="40.45" x2="931.06" y2="376.3" stroke="#787878" stroke-width="1.2"/>
<line x1="520.43" y1="376" x2="931.36" y2="376" stroke="#787878" stroke-width="1.2"/>
<line x1="517.36" x2="520.43" y1="360.9" y2="360.9" stroke="#333333" stroke-width="1.19"/>
<text class="yt" x="515.23" y="364.75">0</text>
<line x1="517.36" x2="520.43" y1="311.11" y2="311.11" stroke="#333333" stroke-width="1.19"/>
<text class="yt" x="515.23" y="314.96">40</text>
<line x1="517.36" x2="520.43" y1="261.32" y2="261.32" stroke="#333333" stroke-width="1.19"/>
<text class="yt" x="515.23" y="265.17">80</text>
<line x1="517.36" x2="520.43" y1="211.52" y2="211.52" stroke="#333333" stroke-width="1.19"/>
<text class="yt" x="515.23" y="215.37">120</text>
<line x1="517.36" x2="520.43" y1="161.73" y2="161.73" stroke="#333333" stroke-width="1.19"/>
<text class="yt" x="515.23" y="165.58">160</text>
<line x1="517.36" x2="520.43" y1="111.94" y2="111.94" stroke="#333333" stroke-width="1.19"/>
<text class="yt" x="515.23" y="115.79">200</text>
<line x1="517.36" x2="520.43" y1="62.15" y2="62.15" stroke="#333333" stroke-width="1.19"/>
<text class="yt" x="515.23" y="66">240</text>
<line x1="579.38" x2="579.38" y1="376.3" y2="379.37" stroke="#333333" stroke-width="1.19"/>
<text class="xt" x="579.13" y="389.1">0.5</text>
<line x1="677.22" x2="677.22" y1="376.3" y2="379.37" stroke="#333333" stroke-width="1.19"/>
<text class="xt" x="676.97" y="389.1">1.5</text>
<line x1="775.07" x2="775.07" y1="376.3" y2="379.37" stroke="#333333" stroke-width="1.19"/>
<text class="xt" x="774.82" y="389.1">2</text>
<line x1="872.91" x2="872.91" y1="376.3" y2="379.37" stroke="#333333" stroke-width="1.19"/>
<text class="xt" x="872.66" y="389.1">3</text>
<text class="at" x="725.89" y="403.6">Fold Change</text>
<text class="at" transform="translate(490.13,208.38) rotate(-90)" x="0" y="0">Sample size ( <tspan font-style="italic" dx="-0.3">n</tspan><tspan dx="-2.4"> )</tspan></text>
<text class="tg" x="484.13" y="28.95">(d)</text>
<text class="tt" x="532.13" y="28.55"><tspan class="gr">ϕ</tspan><tspan dx="-0.4"> = 0.1</tspan>, <tspan class="gr">μ</tspan><tspan class="sub" dy="2.6">0</tspan><tspan dy="-2.6"> = 10</tspan></text>
</g>
<g class="panel">
<line x1="520.43" x2="931.36" y1="736.8" y2="736.8" stroke="#EBEBEB" stroke-width="0.6"/>
<line x1="520.43" x2="931.36" y1="687.01" y2="687.01" stroke="#EBEBEB" stroke-width="0.6"/>
<line x1="520.43" x2="931.36" y1="637.22" y2="637.22" stroke="#EBEBEB" stroke-width="0.6"/>
<line x1="520.43" x2="931.36" y1="587.43" y2="587.43" stroke="#EBEBEB" stroke-width="0.6"/>
<line x1="520.43" x2="931.36" y1="537.64" y2="537.64" stroke="#EBEBEB" stroke-width="0.6"/>
<line x1="520.43" x2="931.36" y1="487.84" y2="487.84" stroke="#EBEBEB" stroke-width="0.6"/>
<line x1="520.43" x2="931.36" y1="761.7" y2="761.7" stroke="#EBEBEB" stroke-width="1.19"/>
<line x1="520.43" x2="931.36" y1="711.91" y2="711.91" stroke="#EBEBEB" stroke-width="1.19"/>
<line x1="520.43" x2="931.36" y1="662.12" y2="662.12" stroke="#EBEBEB" stroke-width="1.19"/>
<line x1="520.43" x2="931.36" y1="612.32" y2="612.32" stroke="#EBEBEB" stroke-width="1.19"/>
<line x1="520.43" x2="931.36" y1="562.53" y2="562.53" stroke="#EBEBEB" stroke-width="1.19"/>
<line x1="520.43" x2="931.36" y1="512.74" y2="512.74" stroke="#EBEBEB" stroke-width="1.19"/>
<line x1="520.43" x2="931.36" y1="462.95" y2="462.95" stroke="#EBEBEB" stroke-width="1.19"/>
<line x1="579.13" x2="579.13" y1="441.2" y2="776.8" stroke="#EBEBEB" stroke-width="1.19"/>
<line x1="676.97" x2="676.97" y1="441.2" y2="776.8" stroke="#EBEBEB" stroke-width="1.19"/>
<line x1="774.82" x2="774.82" y1="441.2" y2="776.8" stroke="#EBEBEB" stroke-width="1.19"/>
<line x1="872.66" x2="872.66" y1="441.2" y2="776.8" stroke="#EBEBEB" stroke-width="1.19"/>
<rect x="546.69" y="728.09" width="2" height="33.61" fill="#F8766D"/>
<rect x="559.27" y="728.09" width="2" height="33.61" fill="#C49A00"/>
<rect x="571.84" y="725.6" width="2" height="36.1" fill="#53B400"/>
<rect x="584.42" y="725.6" width="2" height="36.1" fill="#00C094"/>
<rect x="597" y="706.93" width="2" height="54.77" fill="#00B6EB"/>
<rect x="609.58" y="725.6" width="2" height="36.1" fill="#A58AFF"/>
<rect x="644.53" y="679.54" width="2" height="82.16" fill="#F8766D"/>
<rect x="657.11" y="679.54" width="2" height="82.16" fill="#C49A00"/>
<rect x="669.69" y="675.81" width="2" height="85.89" fill="#53B400"/>
<rect x="682.26" y="675.81" width="2" height="85.89" fill="#00C094"/>
<rect x="694.84" y="632.24" width="2" height="129.46" fill="#00B6EB"/>
<rect x="707.42" y="675.81" width="2" height="85.89" fill="#A58AFF"/>
<rect x="742.37" y="735.56" width="2" height="26.14" fill="#F8766D"/>
<rect x="754.95" y="734.31" width="2" height="27.39" fill="#C49A00"/>
<rect x="767.53" y="733.07" width="2" height="28.63" fill="#53B400"/>
<rect x="780.1" y="733.07" width="2" height="28.63" fill="#00C094"/>
<rect x="792.68" y="718.13" width="2" height="43.57" fill="#00B6EB"/>
<rect x="805.26" y="733.07" width="2" height="28.63" fill="#A58AFF"/>
<rect x="840.21" y="751.74" width="2" height="9.96" fill="#F8766D"/>
<rect x="852.79" y="750.5" width="2" height="11.2" fill="#C49A00"/>
<rect x="865.37" y="750.5" width="2" height="11.2" fill="#53B400"/>
<rect x="877.95" y="750.5" width="2" height="11.2" fill="#00C094"/>
<rect x="890.52" y="743.03" width="2" height="18.67" fill="#00B6EB"/>
<rect x="903.1" y="750.5" width="2" height="11.2" fill="#A58AFF"/>
<rect x="535.11" y="728.09" width="12.58" height="33.61" fill="#F8766D"/>
<rect x="547.69" y="728.09" width="12.58" height="33.61" fill="#C49A00"/>
<rect x="560.27" y="725.6" width="12.58" height="36.1" fill="#53B400"/>
<rect x="572.84" y="725.6" width="12.58" height="36.1" fill="#00C094"/>
<rect x="585.42" y="706.93" width="12.58" height="54.77" fill="#00B6EB"/>
<rect x="598" y="704.44" width="12.58" height="57.26" fill="#A58AFF"/>
<rect x="610.58" y="725.6" width="12.58" height="36.1" fill="#FB61D7"/>
<rect x="632.95" y="679.54" width="12.58" height="82.16" fill="#F8766D"/>
<rect x="645.53" y="679.54" width="12.58" height="82.16" fill="#C49A00"/>
<rect x="658.11" y="675.81" width="12.58" height="85.89" fill="#53B400"/>
<rect x="670.69" y="675.81" width="12.58" height="85.89" fill="#00C094"/>
<rect x="683.26" y="632.24" width="12.58" height="129.46" fill="#00B6EB"/>
<rect x="695.84" y="631" width="12.58" height="130.7" fill="#A58AFF"/>
<rect x="708.42" y="675.81" width="12.58" height="85.89" fill="#FB61D7"/>
<rect x="730.79" y="735.56" width="12.58" height="26.14" fill="#F8766D"/>
<rect x="743.37" y="734.31" width="12.58" height="27.39" fill="#C49A00"/>
<rect x="755.95" y="733.07" width="12.58" height="28.63" fill="#53B400"/>
<rect x="768.53" y="733.07" width="12.58" height="28.63" fill="#00C094"/>
<rect x="781.1" y="716.89" width="12.58" height="44.81" fill="#00B6EB"/>
<rect x="793.68" y="718.13" width="12.58" height="43.57" fill="#A58AFF"/>
<rect x="806.26" y="733.07" width="12.58" height="28.63" fill="#FB61D7"/>
<rect x="828.63" y="751.74" width="12.58" height="9.96" fill="#F8766D"/>
<rect x="841.21" y="750.5" width="12.58" height="11.2" fill="#C49A00"/>
<rect x="853.79" y="750.5" width="12.58" height="11.2" fill="#53B400"/>
<rect x="866.37" y="750.5" width="12.58" height="11.2" fill="#00C094"/>
<rect x="878.95" y="743.03" width="12.58" height="18.67" fill="#00B6EB"/>
<rect x="891.52" y="743.03" width="12.58" height="18.67" fill="#A58AFF"/>
<rect x="904.1" y="750.5" width="12.58" height="11.2" fill="#FB61D7"/>
<text class="bl" x="541.4" y="725.39">27</text>
<text class="bl" x="553.98" y="725.39">27</text>
<text class="bl" x="566.55" y="722.9">29</text>
<text class="bl" x="579.13" y="722.9">29</text>
<text class="bl" x="591.71" y="704.23">44</text>
<text class="bl" x="604.29" y="701.74">46</text>
<text class="bl" x="616.87" y="722.9">29</text>
<text class="bl" x="639.24" y="676.84">66</text>
<text class="bl" x="651.82" y="676.84">66</text>
<text class="bl" x="664.4" y="673.11">69</text>
<text class="bl" x="676.97" y="673.11">69</text>
<text class="bl" x="689.55" y="629.54">104</text>
<text class="bl" x="702.13" y="628.3">105</text>
<text class="bl" x="714.71" y="673.11">69</text>
<text class="bl" x="737.08" y="732.86">21</text>
<text class="bl" x="749.66" y="731.61">22</text>
<text class="bl" x="762.24" y="730.37">23</text>
<text class="bl" x="774.82" y="730.37">23</text>
<text class="bl" x="787.39" y="714.19">36</text>
<text class="bl" x="799.97" y="715.43">35</text>
<text class="bl" x="812.55" y="730.37">23</text>
<text class="bl" x="834.92" y="749.04">8</text>
<text class="bl" x="847.5" y="747.8">9</text>
<text class="bl" x="860.08" y="747.8">9</text>
<text class="bl" x="872.66" y="747.8">9</text>
<text class="bl" x="885.24" y="740.33">15</text>
<text class="bl" x="897.81" y="740.33">15</text>
<text class="bl" x="910.39" y="747.8">9</text>
<line x1="520.43" y1="441.5" x2="931.36" y2="441.5" stroke="#9a9a9a" stroke-width="0.9"/>
<line x1="520.73" y1="441.2" x2="520.73" y2="776.8" stroke="#7b7b7b" stroke-width="0.9"/>
<line x1="931.06" y1="441.2" x2="931.06" y2="776.8" stroke="#787878" stroke-width="1.2"/>
<line x1="520.43" y1="776.5" x2="931.36" y2="776.5" stroke="#787878" stroke-width="1.2"/>
<line x1="517.36" x2="520.43" y1="761.7" y2="761.7" stroke="#333333" stroke-width="1.19"/>
<text class="yt" x="515.23" y="765.55">0</text>
<line x1="517.36" x2="520.43" y1="711.91" y2="711.91" stroke="#333333" stroke-width="1.19"/>
<text class="yt" x="515.23" y="715.76">40</text>
<line x1="517.36" x2="520.43" y1="662.12" y2="662.12" stroke="#333333" stroke-width="1.19"/>
<text class="yt" x="515.23" y="665.97">80</text>
<line x1="517.36" x2="520.43" y1="612.32" y2="612.32" stroke="#333333" stroke-width="1.19"/>
<text class="yt" x="515.23" y="616.17">120</text>
<line x1="517.36" x2="520.43" y1="562.53" y2="562.53" stroke="#333333" stroke-width="1.19"/>
<text class="yt" x="515.23" y="566.38">160</text>
<line x1="517.36" x2="520.43" y1="512.74" y2="512.74" stroke="#333333" stroke-width="1.19"/>
<text class="yt" x="515.23" y="516.59">200</text>
<line x1="517.36" x2="520.43" y1="462.95" y2="462.95" stroke="#333333" stroke-width="1.19"/>
<text class="yt" x="515.23" y="466.8">240</text>
<line x1="579.38" x2="579.38" y1="776.8" y2="779.87" stroke="#333333" stroke-width="1.19"/>
<text class="xt" x="579.13" y="789.9">0.5</text>
<line x1="677.22" x2="677.22" y1="776.8" y2="779.87" stroke="#333333" stroke-width="1.19"/>
<text class="xt" x="676.97" y="789.9">1.5</text>
<line x1="775.07" x2="775.07" y1="776.8" y2="779.87" stroke="#333333" stroke-width="1.19"/>
<text class="xt" x="774.82" y="789.9">2</text>
<line x1="872.91" x2="872.91" y1="776.8" y2="779.87" stroke="#333333" stroke-width="1.19"/>
<text class="xt" x="872.66" y="789.9">3</text>
<text class="at" x="725.89" y="804.4">Fold Change</text>
<text class="at" transform="translate(490.13,609) rotate(-90)" x="0" y="0">Sample size ( <tspan font-style="italic" dx="-0.3">n</tspan><tspan dx="-2.4"> )</tspan></text>
<text class="tg" x="484.13" y="429.7">(e)</text>
<text class="tt" x="532.13" y="429.3"><tspan class="gr">ϕ</tspan><tspan dx="-0.4"> = 0.2</tspan>, <tspan class="gr">μ</tspan><tspan class="sub" dy="2.6">0</tspan><tspan dy="-2.6"> = 10</tspan></text>
</g>
<g class="panel">
<line x1="520.43" x2="931.36" y1="1137.2" y2="1137.2" stroke="#EBEBEB" stroke-width="0.6"/>
<line x1="520.43" x2="931.36" y1="1087.41" y2="1087.41" stroke="#EBEBEB" stroke-width="0.6"/>
<line x1="520.43" x2="931.36" y1="1037.62" y2="1037.62" stroke="#EBEBEB" stroke-width="0.6"/>
<line x1="520.43" x2="931.36" y1="987.83" y2="987.83" stroke="#EBEBEB" stroke-width="0.6"/>
<line x1="520.43" x2="931.36" y1="938.04" y2="938.04" stroke="#EBEBEB" stroke-width="0.6"/>
<line x1="520.43" x2="931.36" y1="888.24" y2="888.24" stroke="#EBEBEB" stroke-width="0.6"/>
<line x1="520.43" x2="931.36" y1="1162.1" y2="1162.1" stroke="#EBEBEB" stroke-width="1.19"/>
<line x1="520.43" x2="931.36" y1="1112.31" y2="1112.31" stroke="#EBEBEB" stroke-width="1.19"/>
<line x1="520.43" x2="931.36" y1="1062.52" y2="1062.52" stroke="#EBEBEB" stroke-width="1.19"/>
<line x1="520.43" x2="931.36" y1="1012.72" y2="1012.72" stroke="#EBEBEB" stroke-width="1.19"/>
<line x1="520.43" x2="931.36" y1="962.93" y2="962.93" stroke="#EBEBEB" stroke-width="1.19"/>
<line x1="520.43" x2="931.36" y1="913.14" y2="913.14" stroke="#EBEBEB" stroke-width="1.19"/>
<line x1="520.43" x2="931.36" y1="863.35" y2="863.35" stroke="#EBEBEB" stroke-width="1.19"/>
<line x1="579.13" x2="579.13" y1="841.8" y2="1177.5" stroke="#EBEBEB" stroke-width="1.19"/>
<line x1="676.97" x2="676.97" y1="841.8" y2="1177.5" stroke="#EBEBEB" stroke-width="1.19"/>
<line x1="774.82" x2="774.82" y1="841.8" y2="1177.5" stroke="#EBEBEB" stroke-width="1.19"/>
<line x1="872.66" x2="872.66" y1="841.8" y2="1177.5" stroke="#EBEBEB" stroke-width="1.19"/>
<rect x="546.69" y="1098.62" width="2" height="63.48" fill="#F8766D"/>
<rect x="559.27" y="1097.37" width="2" height="64.73" fill="#C49A00"/>
<rect x="571.84" y="1094.88" width="2" height="67.22" fill="#53B400"/>
<rect x="584.42" y="1094.88" width="2" height="67.22" fill="#00C094"/>
<rect x="597" y="1060.03" width="2" height="102.07" fill="#00B6EB"/>
<rect x="609.58" y="1096.13" width="2" height="65.97" fill="#A58AFF"/>
<rect x="644.53" y="992.81" width="2" height="169.29" fill="#F8766D"/>
<rect x="657.11" y="992.81" width="2" height="169.29" fill="#C49A00"/>
<rect x="669.69" y="985.34" width="2" height="176.76" fill="#53B400"/>
<rect x="682.26" y="984.09" width="2" height="178.01" fill="#00C094"/>
<rect x="694.84" y="896.96" width="2" height="265.14" fill="#00B6EB"/>
<rect x="707.42" y="982.85" width="2" height="179.25" fill="#A58AFF"/>
<rect x="742.37" y="1104.84" width="2" height="57.26" fill="#F8766D"/>
<rect x="754.95" y="1104.84" width="2" height="57.26" fill="#C49A00"/>
<rect x="767.53" y="1103.59" width="2" height="58.51" fill="#53B400"/>
<rect x="780.1" y="1103.59" width="2" height="58.51" fill="#00C094"/>
<rect x="792.68" y="1072.47" width="2" height="89.63" fill="#00B6EB"/>
<rect x="805.26" y="1102.35" width="2" height="59.75" fill="#A58AFF"/>
<rect x="840.21" y="1139.69" width="2" height="22.41" fill="#F8766D"/>
<rect x="852.79" y="1139.69" width="2" height="22.41" fill="#C49A00"/>
<rect x="865.37" y="1138.45" width="2" height="23.65" fill="#53B400"/>
<rect x="877.95" y="1138.45" width="2" height="23.65" fill="#00C094"/>
<rect x="890.52" y="1126" width="2" height="36.1" fill="#00B6EB"/>
<rect x="903.1" y="1138.45" width="2" height="23.65" fill="#A58AFF"/>
<rect x="535.11" y="1098.62" width="12.58" height="63.48" fill="#F8766D"/>
<rect x="547.69" y="1097.37" width="12.58" height="64.73" fill="#C49A00"/>
<rect x="560.27" y="1094.88" width="12.58" height="67.22" fill="#53B400"/>
<rect x="572.84" y="1094.88" width="12.58" height="67.22" fill="#00C094"/>
<rect x="585.42" y="1060.03" width="12.58" height="102.07" fill="#00B6EB"/>
<rect x="598" y="1057.54" width="12.58" height="104.56" fill="#A58AFF"/>
<rect x="610.58" y="1096.13" width="12.58" height="65.97" fill="#FB61D7"/>
<rect x="632.95" y="992.81" width="12.58" height="169.29" fill="#F8766D"/>
<rect x="645.53" y="992.81" width="12.58" height="169.29" fill="#C49A00"/>
<rect x="658.11" y="985.34" width="12.58" height="176.76" fill="#53B400"/>
<rect x="670.69" y="984.09" width="12.58" height="178.01" fill="#00C094"/>
<rect x="683.26" y="896.96" width="12.58" height="265.14" fill="#00B6EB"/>
<rect x="695.84" y="894.47" width="12.58" height="267.63" fill="#A58AFF"/>
<rect x="708.42" y="982.85" width="12.58" height="179.25" fill="#FB61D7"/>
<rect x="730.79" y="1104.84" width="12.58" height="57.26" fill="#F8766D"/>
<rect x="743.37" y="1104.84" width="12.58" height="57.26" fill="#C49A00"/>
<rect x="755.95" y="1102.35" width="12.58" height="59.75" fill="#53B400"/>
<rect x="768.53" y="1103.59" width="12.58" height="58.51" fill="#00C094"/>
<rect x="781.1" y="1072.47" width="12.58" height="89.63" fill="#00B6EB"/>
<rect x="793.68" y="1071.23" width="12.58" height="90.87" fill="#A58AFF"/>
<rect x="806.26" y="1102.35" width="12.58" height="59.75" fill="#FB61D7"/>
<rect x="828.63" y="1139.69" width="12.58" height="22.41" fill="#F8766D"/>
<rect x="841.21" y="1139.69" width="12.58" height="22.41" fill="#C49A00"/>
<rect x="853.79" y="1138.45" width="12.58" height="23.65" fill="#53B400"/>
<rect x="866.37" y="1138.45" width="12.58" height="23.65" fill="#00C094"/>
<rect x="878.95" y="1124.76" width="12.58" height="37.34" fill="#00B6EB"/>
<rect x="891.52" y="1126" width="12.58" height="36.1" fill="#A58AFF"/>
<rect x="904.1" y="1138.45" width="12.58" height="23.65" fill="#FB61D7"/>
<text class="bl" x="541.4" y="1095.92">51</text>
<text class="bl" x="553.98" y="1094.67">52</text>
<text class="bl" x="566.55" y="1092.18">54</text>
<text class="bl" x="579.13" y="1092.18">54</text>
<text class="bl" x="591.71" y="1057.33">82</text>
<text class="bl" x="604.29" y="1054.84">84</text>
<text class="bl" x="616.87" y="1093.43">53</text>
<text class="bl" x="639.24" y="990.11">136</text>
<text class="bl" x="651.82" y="990.11">136</text>
<text class="bl" x="664.4" y="982.64">142</text>
<text class="bl" x="676.97" y="981.39">143</text>
<text class="bl" x="689.55" y="894.26">213</text>
<text class="bl" x="702.13" y="891.77">215</text>
<text class="bl" x="714.71" y="980.15">144</text>
<text class="bl" x="737.08" y="1102.14">46</text>
<text class="bl" x="749.66" y="1102.14">46</text>
<text class="bl" x="762.24" y="1099.65">48</text>
<text class="bl" x="774.82" y="1100.89">47</text>
<text class="bl" x="787.39" y="1069.77">72</text>
<text class="bl" x="799.97" y="1068.53">73</text>
<text class="bl" x="812.55" y="1099.65">48</text>
<text class="bl" x="834.92" y="1136.99">18</text>
<text class="bl" x="847.5" y="1136.99">18</text>
<text class="bl" x="860.08" y="1135.75">19</text>
<text class="bl" x="872.66" y="1135.75">19</text>
<text class="bl" x="885.24" y="1122.06">30</text>
<text class="bl" x="897.81" y="1123.3">29</text>
<text class="bl" x="910.39" y="1135.75">19</text>
<line x1="520.43" y1="842.1" x2="931.36" y2="842.1" stroke="#9a9a9a" stroke-width="0.9"/>
<line x1="520.73" y1="841.8" x2="520.73" y2="1177.5" stroke="#7b7b7b" stroke-width="0.9"/>
<line x1="931.06" y1="841.8" x2="931.06" y2="1177.5" stroke="#787878" stroke-width="1.2"/>
<line x1="520.43" y1="1177.2" x2="931.36" y2="1177.2" stroke="#787878" stroke-width="1.2"/>
<line x1="517.36" x2="520.43" y1="1162.1" y2="1162.1" stroke="#333333" stroke-width="1.19"/>
<text class="yt" x="515.23" y="1165.95">0</text>
<line x1="517.36" x2="520.43" y1="1112.31" y2="1112.31" stroke="#333333" stroke-width="1.19"/>
<text class="yt" x="515.23" y="1116.16">40</text>
<line x1="517.36" x2="520.43" y1="1062.52" y2="1062.52" stroke="#333333" stroke-width="1.19"/>
<text class="yt" x="515.23" y="1066.37">80</text>
<line x1="517.36" x2="520.43" y1="1012.72" y2="1012.72" stroke="#333333" stroke-width="1.19"/>
<text class="yt" x="515.23" y="1016.57">120</text>
<line x1="517.36" x2="520.43" y1="962.93" y2="962.93" stroke="#333333" stroke-width="1.19"/>
<text class="yt" x="515.23" y="966.78">160</text>
<line x1="517.36" x2="520.43" y1="913.14" y2="913.14" stroke="#333333" stroke-width="1.19"/>
<text class="yt" x="515.23" y="916.99">200</text>
<line x1="517.36" x2="520.43" y1="863.35" y2="863.35" stroke="#333333" stroke-width="1.19"/>
<text class="yt" x="515.23" y="867.2">240</text>
<line x1="579.38" x2="579.38" y1="1177.5" y2="1180.57" stroke="#333333" stroke-width="1.19"/>
<text class="xt" x="579.13" y="1190.3">0.5</text>
<line x1="677.22" x2="677.22" y1="1177.5" y2="1180.57" stroke="#333333" stroke-width="1.19"/>
<text class="xt" x="676.97" y="1190.3">1.5</text>
<line x1="775.07" x2="775.07" y1="1177.5" y2="1180.57" stroke="#333333" stroke-width="1.19"/>
<text class="xt" x="774.82" y="1190.3">2</text>
<line x1="872.91" x2="872.91" y1="1177.5" y2="1180.57" stroke="#333333" stroke-width="1.19"/>
<text class="xt" x="872.66" y="1190.3">3</text>
<text class="at" x="725.89" y="1204.8">Fold Change</text>
<text class="at" transform="translate(490.13,1009.65) rotate(-90)" x="0" y="0">Sample size ( <tspan font-style="italic" dx="-0.3">n</tspan><tspan dx="-2.4"> )</tspan></text>
<text class="tg" x="484.13" y="830.3">(f)</text>
<text class="tt" x="532.13" y="829.9"><tspan class="gr">ϕ</tspan><tspan dx="-0.4"> = 0.5</tspan>, <tspan class="gr">μ</tspan><tspan class="sub" dy="2.6">0</tspan><tspan dy="-2.6"> = 10</tspan></text>
</g>
<g class="legend">
<text class="lt" x="943.9" y="547.1">Covariates</text>
<rect x="943.9" y="555" width="18.1" height="17.9" fill="#F8766D"/>
<text class="ll" x="968.75" y="567.9">none</text>
<rect x="943.9" y="574.25" width="18.1" height="17.9" fill="#C49A00"/>
<text class="ll" x="968.75" y="587.15">I(0.25, 0.25, 0.25, 0.25)</text>
<rect x="943.9" y="593.5" width="18.1" height="17.9" fill="#53B400"/>
<text class="ll" x="968.75" y="606.4">II(0.2, 0.3, 0.3, 0.2)</text>
<rect x="943.9" y="612.75" width="18.1" height="17.9" fill="#00C094"/>
<text class="ll" x="968.75" y="625.65">III(0.3, 0.2, 0.2, 0.3)</text>
<rect x="943.9" y="632" width="18.1" height="17.9" fill="#00B6EB"/>
<text class="ll" x="968.75" y="644.9">IV(0.1, 0.4, 0.4, 0.1)</text>
<rect x="943.9" y="651.25" width="18.1" height="17.9" fill="#A58AFF"/>
<text class="ll" x="968.75" y="664.15">V(0.4, 0.1, 0.1, 0.4)</text>
<rect x="943.9" y="670.5" width="18.1" height="17.9" fill="#FB61D7"/>
<text class="ll" x="968.75" y="683.4">VI(0.1, 0.3, 0.4, 0.2)</text>
</g>
</svg>
</body>
</html>
